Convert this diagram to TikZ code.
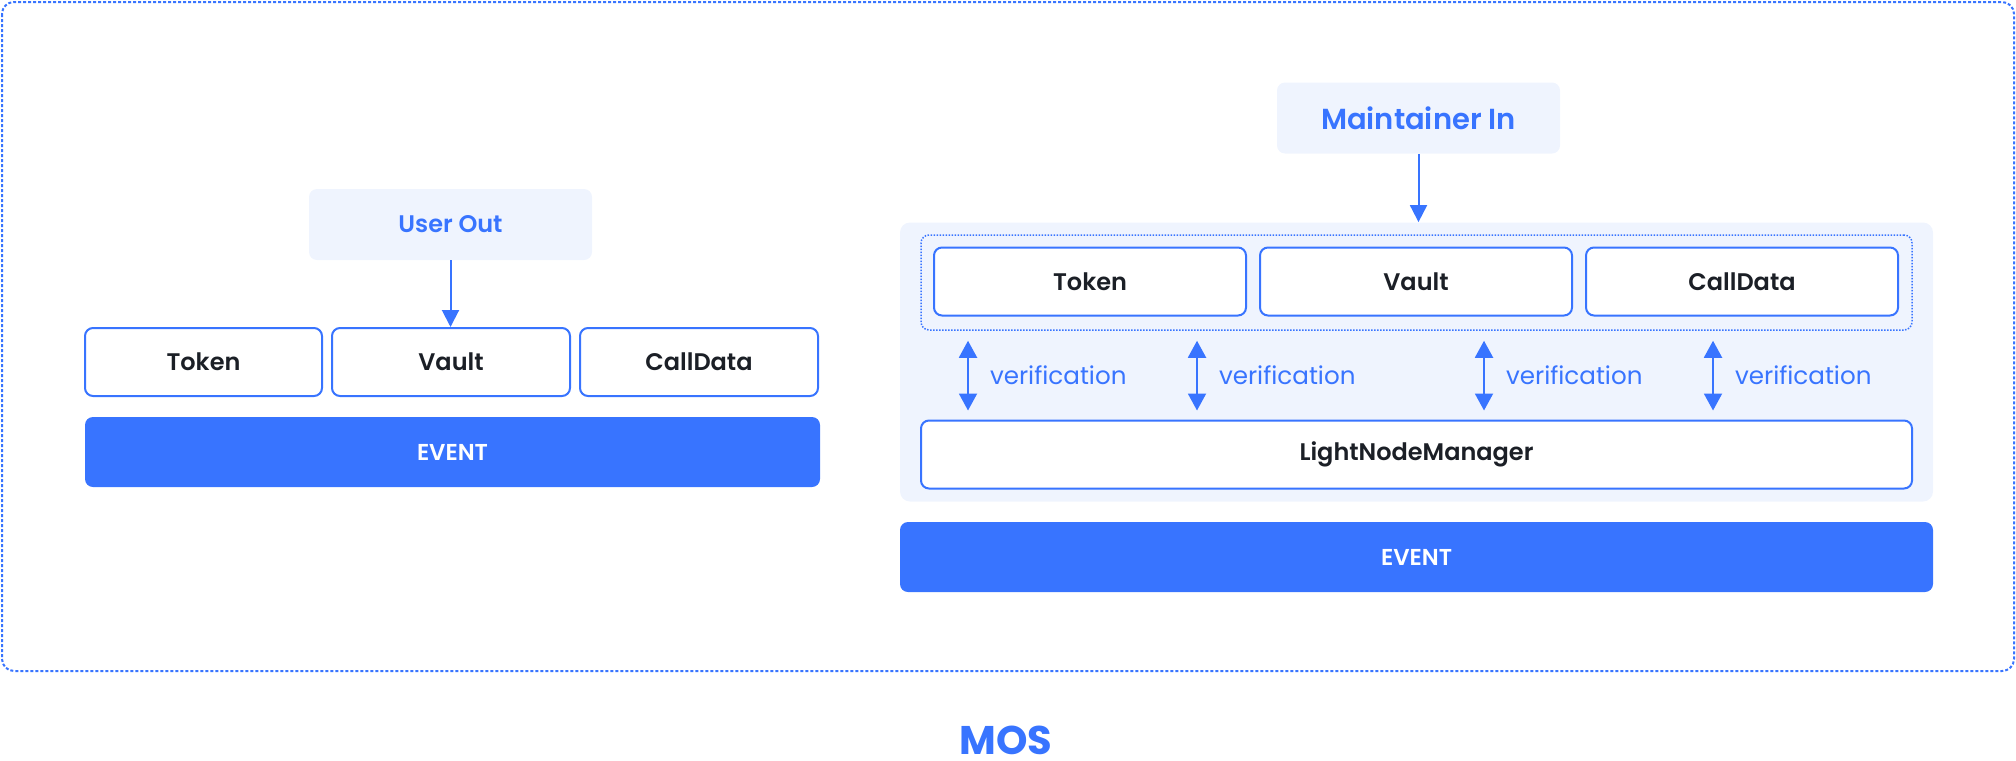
\documentclass[tikz,border=0pt]{standalone}
\usepackage{fontspec}
\IfFontExistsTF{Poppins SemiBold}{\setmainfont{Poppins}[BoldFont={Poppins SemiBold}]}{\setmainfont{Poppins}}
\IfFontExistsTF{Poppins Bold}{\newfontface\heavyface{Poppins Bold}}{\newcommand\heavyface{\bfseries}}
\usetikzlibrary{arrows.meta}
\definecolor{mosblue}{HTML}{3874FF}
\definecolor{paleblue}{HTML}{EFF4FE}
\definecolor{inkdark}{HTML}{1B1F26}

\begin{document}
\begin{tikzpicture}[x=0.5pt,y=-0.5pt,
  box/.style={draw=mosblue, line width=1pt, fill=white, rounded corners=4pt,
    minimum height=34pt, inner sep=0pt, text=inkdark,
    font=\fontsize{12}{14}\selectfont\bfseries},
  actor/.style={fill=paleblue, rounded corners=4pt, inner sep=0pt,
    minimum width=141.5pt, minimum height=35.5pt, text=mosblue},
  eventbar/.style={fill=mosblue, rounded corners=4pt, inner sep=0pt,
    minimum height=35pt, text=white, font=\fontsize{11.5}{14}\selectfont\bfseries},
  flow/.style={draw=mosblue, line width=1pt, -{Triangle[length=8.5pt,width=8.5pt]}},
  check/.style={draw=mosblue, line width=1pt,
    {Triangle[length=8.5pt,width=9pt]}-{Triangle[length=8.5pt,width=9pt]},
    shorten <=5pt, shorten >=4.5pt},
  checklabel/.style={midway, right, inner sep=0pt, xshift=10.5pt, text=mosblue,
    font=\fontsize{12.3}{14}\selectfont}
]
\useasboundingbox (0,0) rectangle (2016,760);

% outer frame
\draw [mosblue, line width=1pt, dash pattern=on 1.5pt off 1pt, rounded corners=6pt]
  (2,2) rectangle (2014,671);

% left side: user out
\node [actor, font=\fontsize{12}{14}\selectfont\bfseries] (userout) at (450.5,224.5) {User Out};
\node [box, minimum width=118.5pt] (ltoken) at (203.5,362) {Token};
\node [box, minimum width=119pt] (lvault) at (451,362) {Vault};
\node [box, minimum width=119pt] (lcall) at (699,362) {CallData};
\node [eventbar, minimum width=367.5pt] (levent) at (452.5,452) {EVENT};
\draw [flow] (userout.south) -- (userout.south |- lvault.north);

% right side: maintainer in
\node [fill=paleblue, rounded corners=5pt, inner sep=0pt,
  minimum width=516.5pt, minimum height=139.5pt] (panel) at (1416.5,362) {};
\node [actor, font=\fontsize{14.5}{17}\selectfont\bfseries] (maint) at (1418.5,118) {Maintainer In};
\draw [flow] (maint.south) -- (maint.south |- panel.north);

\node [draw=mosblue, line width=0.75pt, dash pattern=on 0.75pt off 0.75pt,
  rounded corners=4pt, inner sep=0pt, minimum width=495.5pt, minimum height=47.5pt] (grp) at (1416.5,282.5) {};
\node [box, minimum width=156pt] (rtoken) at (1090,281.5) {Token};
\node [box, minimum width=156pt] (rvault) at (1416,281.5) {Vault};
\node [box, minimum width=156pt] (rcall) at (1742,281.5) {CallData};
\node [box, minimum width=495.5pt] (lnm) at (1416.5,454.5) {LightNodeManager};
\node [eventbar, minimum width=516.5pt] (revent) at (1416.5,557) {EVENT};

\coordinate (v1) at (968,0);
\coordinate (v2) at (1197,0);
\coordinate (v3) at (1484,0);
\coordinate (v4) at (1713,0);
\foreach \v in {v1,v2,v3,v4}
  \draw [check] (grp.south -| \v) -- (lnm.north -| \v) node [checklabel] {verification};

% caption
\node [anchor=base, inner sep=0pt, text=mosblue, font=\fontsize{20}{24}\selectfont\heavyface] (mos) at (1006,754) {MOS};
\end{tikzpicture}
\end{document}
